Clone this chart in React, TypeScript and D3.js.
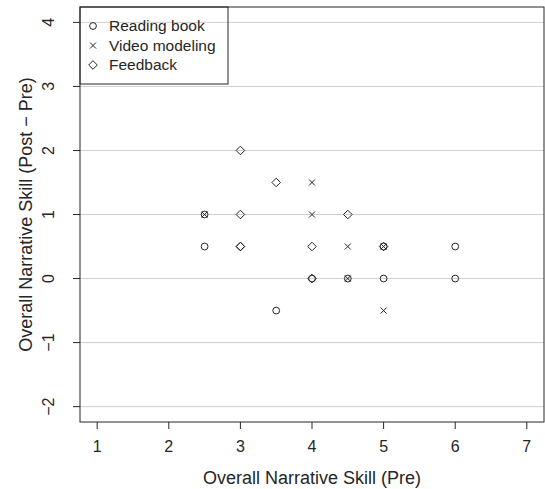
import React from 'react';
import * as d3 from 'd3';

// pre score, change score (post - pre)
const readingPre = [2.5, 2.5, 3.5, 4, 4.5, 5, 5, 6, 6];
const readingGain = [0.5, 1, -0.5, 0, 0, 0.5, 0, 0.5, 0];
const videoPre = [2.5, 4, 4, 4.5, 4.5, 5, 5];
const videoGain = [1, 1.5, 1, 0.5, 0, 0.5, -0.5];
const feedbackPre = [3, 3, 3, 3, 3.5, 4, 4, 4.5, 5];
const feedbackGain = [2, 1, 0.5, 0.5, 1.5, 0.5, 0, 1, 0.5];

const xTicks = [1, 2, 3, 4, 5, 6, 7];
const yTicks = [-2, -1, 0, 1, 2, 3, 4];
const legendLabels = ['Reading book', 'Video modeling', 'Feedback'];

const W = 545;
const H = 489;
const plot = { left: 80, right: 544, top: 7, bottom: 422 };
const ink = '#262626';
const font = '"Liberation Sans", Arial, sans-serif';

const x = d3.scaleLinear().domain([0.76, 7.24]).range([plot.left, plot.right]);
const y = d3.scaleLinear().domain([-2.24, 4.24]).range([plot.bottom, plot.top]);

const circlePath = d3.symbol().type(d3.symbolCircle).size(Math.PI * 3.4 * 3.4)() as string;
const xPath = 'M-3,-3L3,3M-3,3L3,-3';
const diamondPath = 'M0,-4.3L4.3,0L0,4.3L-4.3,0Z';
const shapes = [circlePath, xPath, diamondPath];

const Mark = ({ cx, cy, k }: { cx: number; cy: number; k: number }) => (
  <path
    d={shapes[k]}
    transform={`translate(${cx},${cy})`}
    fill="none"
    stroke={ink}
    strokeWidth={1}
  />
);

export default function App() {
  const groups = [
    { pre: readingPre, gain: readingGain },
    { pre: videoPre, gain: videoGain },
    { pre: feedbackPre, gain: feedbackGain },
  ];

  return (
    <svg
      width={W}
      height={H}
      style={{ position: 'absolute', left: 0, top: 0, background: '#fff' }}
      fontFamily={font}
    >
      {/* grid lines */}
      {yTicks.map(t => (
        <line key={'g' + t} x1={plot.left} x2={plot.right} y1={y(t)} y2={y(t)}
          stroke="#cfcfcf" strokeWidth={1} />
      ))}

      {/* points */}
      {groups.map((g, k) =>
        g.pre.map((p, i) => <Mark key={k + '-' + i} cx={x(p)} cy={y(g.gain[i])} k={k} />)
      )}

      {/* frame */}
      <rect x={plot.left} y={plot.top} width={plot.right - plot.left} height={plot.bottom - plot.top}
        fill="none" stroke={ink} strokeWidth={1} />

      {/* x axis */}
      {xTicks.map(t => (
        <g key={'x' + t}>
          <line x1={x(t)} x2={x(t)} y1={plot.bottom} y2={plot.bottom + 7} stroke={ink} />
          <text x={x(t)} y={plot.bottom + 30} textAnchor="middle" fontSize={16} fill={ink}>{t}</text>
        </g>
      ))}
      <text x={(plot.left + plot.right) / 2} y={484} textAnchor="middle" fontSize={18} fill={ink}>
        Overall Narrative Skill (Pre)
      </text>

      {/* y axis */}
      {yTicks.map(t => (
        <g key={'y' + t}>
          <line x1={plot.left - 7} x2={plot.left} y1={y(t)} y2={y(t)} stroke={ink} />
          <text transform={`translate(${plot.left - 32},${y(t)}) rotate(-90)`} textAnchor="middle"
            dy="0.35em" fontSize={16} fill={ink}>
            {t < 0 ? '\u2212' + Math.abs(t) : t}
          </text>
        </g>
      ))}
      <text transform={`translate(32,${(plot.top + plot.bottom) / 2}) rotate(-90)`} textAnchor="middle"
        fontSize={18} fill={ink}>
        Overall Narrative Skill (Post {'\u2212'} Pre)
      </text>

      {/* legend */}
      <rect x={plot.left} y={plot.top} width={148} height={77} fill="none" stroke={ink} strokeWidth={1} />
      {legendLabels.map((l, k) => (
        <g key={l}>
          <Mark cx={93} cy={26 + k * 19.5} k={k} />
          <text x={109} y={26 + k * 19.5} dy="0.35em" fontSize={15.5} fill={ink}>{l}</text>
        </g>
      ))}
    </svg>
  );
}
